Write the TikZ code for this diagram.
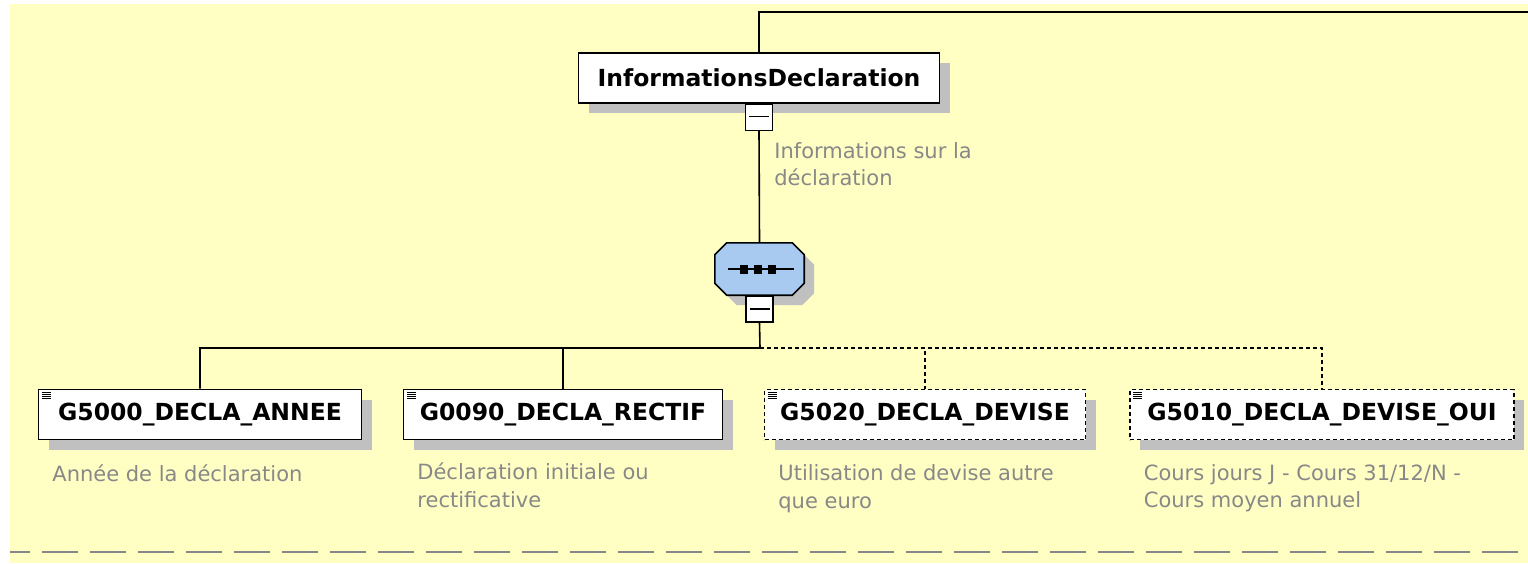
\documentclass[tikz,border=0pt]{standalone}
\usepackage{fontspec}
\setmainfont{DejaVu Sans}
\usetikzlibrary{calc,shadows}
\definecolor{bgyellow}{RGB}{255,255,196}
\definecolor{seqblue}{RGB}{168,202,240}
\definecolor{docgray}{RGB}{136,136,136}
\definecolor{shadowgray}{RGB}{192,192,192}
% octagon of the sequence compositor, shifted by #1
\newcommand\seqoct[1]{($(seq.north west)+(#1+12,#1)$) -- ($(seq.north east)+(#1-12,#1)$) -- ($(seq.north east)+(#1,#1+12)$) -- ($(seq.south east)+(#1,#1-12)$) -- ($(seq.south east)+(#1-12,#1)$) -- ($(seq.south west)+(#1+12,#1)$) -- ($(seq.south west)+(#1,#1-12)$) -- ($(seq.north west)+(#1,#1+12)$) -- cycle}

\begin{document}
\begin{tikzpicture}[x=1pt,y=-1pt,
  elem/.style={draw,line width=1.6pt,fill=white,inner sep=0pt,minimum height=50pt,
    font=\fontsize{23.5}{28}\selectfont\bfseries,
    drop shadow={shadow xshift=10pt,shadow yshift=-10pt,fill=shadowgray,opacity=1}},
  optelem/.style={elem,dash pattern=on 4pt off 3pt},
  doc/.style={anchor=base west,align=left,inner sep=0pt,text=docgray,font=\fontsize{21}{27.5}\selectfont},
  minusbox/.style={draw,line width=1.3pt,fill=white,minimum width=27pt,minimum height=26pt,inner sep=0pt},
  conn/.style={line width=1.6pt},
  optconn/.style={conn,dash pattern=on 4pt off 3pt}]

  \fill[white] (0,0) rectangle (1528,563);
  \fill[bgyellow] (10,4) rectangle (1528,563);
  \useasboundingbox (0,0) rectangle (1528,563);
  \draw[docgray,line width=2pt,dash pattern=on 36pt off 12pt,dash phase=16pt] (10,552) -- (1518,552);

  % root element
  \node[elem,minimum width=361pt] (info) at (759,78) {InformationsDeclaration};
  \node[minusbox,anchor=north] (infominus) at (info.south) {};
  \draw[line width=1.3pt] ($(infominus)+(-10,-1)$) -- ++(20,0);
  \coordinate (topright) at (1528,12);
  \draw[conn] (info.north) |- (topright);
  \node[doc] (infodoc) at ($(infominus.south east)+(1,54.5)$) {Informations sur la\\déclaration};

  % sequence
  \node[minimum width=89pt,minimum height=52pt,inner sep=0pt] (seq) at (759.5,269) {};
  \fill[shadowgray] \seqoct{10};
  \draw[line width=1.6pt,fill=seqblue] \seqoct{0};
  \draw[line width=1.5pt] ($(seq.center)+(-32,0)$) -- ($(seq.center)+(34,0)$);
  \foreach \dx in {-16,-2,12}
    \fill ($(seq.center)+(\dx-4,-4.5)$) rectangle ++(8,9);
  \node[minusbox,anchor=north] (seqminus) at (seq.south) {};
  \draw[line width=1.3pt] ($(seqminus)+(-10,0)$) -- ++(20,0);
  \draw[conn] (infominus.south) -- (seq.north);

  % children
  \foreach \n/\x/\w/\t/\s in {g5000/200/323/G5000\_DECLA\_ANNEE/elem,
      g0090/563/319/G0090\_DECLA\_RECTIF/elem,
      g5020/925/321/G5020\_DECLA\_DEVISE/optelem,
      g5010/1322/384/G5010\_DECLA\_DEVISE\_OUI/optelem} {
    \node[\s,minimum width=\w pt] (\n) at (\x,414.5) {\t};
    \foreach \k in {0,...,3}
      \draw[line width=0.9pt] ($(\n.north west)+(4,3.5+2.2*\k)$) -- ++(9,0);
  }
  \coordinate (bus) at (760,348);
  \draw[conn] (seqminus.south) -- (bus) -| (g5000.north);
  \draw[conn] (bus) -| (g0090.north);
  \draw[optconn] (bus) -| (g5020.north);
  \draw[optconn] (bus) -| (g5010.north);

  % descriptions (base = last line)
  \foreach \n/\dy/\t in {g5000/41/{Année de la déclaration},
      g0090/67/{Déclaration initiale ou\\rectificative},
      g5020/68/{Utilisation de devise autre\\que euro},
      g5010/67.5/{Cours jours J - Cours 31/12/N -\\Cours moyen annuel}}
    \node[doc] (\n doc) at ($(\n.south west)+(14.5,\dy)$) {\t};
\end{tikzpicture}
\end{document}
